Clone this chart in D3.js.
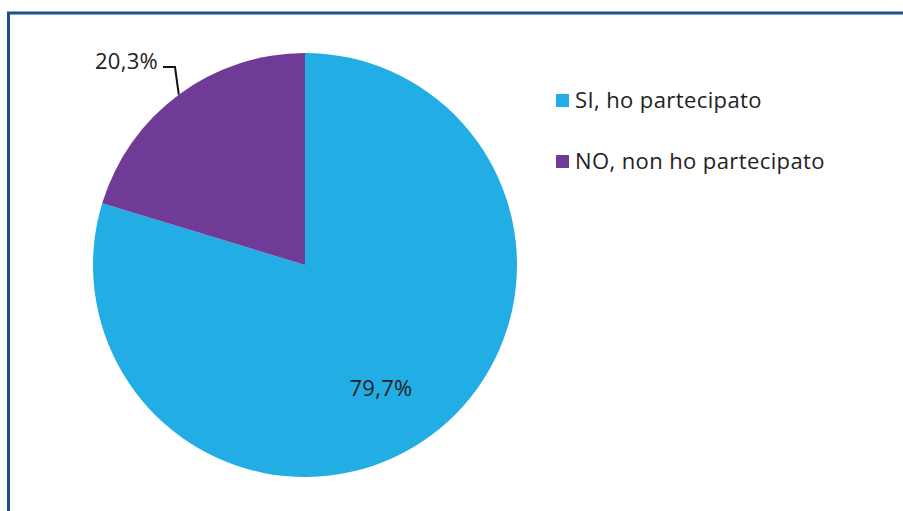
<!DOCTYPE html>
<html>
<head>
<meta charset="utf-8">
<script src="https://cdn.jsdelivr.net/npm/d3@7"></script>
<style>
  html, body { margin: 0; padding: 0; background: #fff; }
  svg { display: block; }
  text { font-family: "Open Sans", "Noto Sans", sans-serif; fill: #222; }
</style>
</head>
<body>
<svg id="chart" width="903" height="511"></svg>
<script>
// Survey answers and their shares (%)
const categories = ["SI, ho partecipato", "NO, non ho partecipato"];
const values = [79.7, 20.3];
const colors = ["#22aee4", "#6f3b96"];
const valueLabels = ["79,7%", "20,3%"];

const svg = d3.select("#chart");

// Outer frame (runs past the right and bottom edges)
svg.append("rect")
  .attr("x", 8.5).attr("y", 13)
  .attr("width", 1000).attr("height", 1000)
  .attr("fill", "none")
  .attr("stroke", "#1d4f8b")
  .attr("stroke-width", 3);

const cx = 305, cy = 265, r = 212;
const g = svg.append("g").attr("transform", `translate(${cx},${cy})`);

const pie = d3.pie().sort(null).value(d => d.v);
const data = categories.map((c, i) => ({ c, v: values[i], color: colors[i], label: valueLabels[i] }));
const arcs = pie(data);
const arc = d3.arc().innerRadius(0).outerRadius(r);

g.selectAll("path.slice")
  .data(arcs)
  .join("path")
  .attr("class", "slice")
  .attr("d", arc)
  .attr("fill", d => d.data.color);

// Label inside the large slice
const big = arcs[0];
g.append("text")
  .attr("x", 381 - cx)
  .attr("y", 396 - cy)
  .attr("text-anchor", "middle")
  .attr("font-size", 22)
  .attr("letter-spacing", 0.3)
  .text(big.data.label);

// Label outside the small slice with leader line
const small = arcs[1];
const mid = (small.startAngle + small.endAngle) / 2;
const p0 = [r * Math.sin(mid), -r * Math.cos(mid)];
const elbow = [175 - cx, 67 - cy];
const end = [163 - cx, 67 - cy];
g.append("path")
  .attr("d", d3.line()([p0, elbow, end]))
  .attr("fill", "none")
  .attr("stroke", "#111")
  .attr("stroke-width", 2);
g.append("text")
  .attr("x", end[0] - 5)
  .attr("y", end[1] + 2)
  .attr("text-anchor", "end")
  .attr("font-size", 22)
  .attr("letter-spacing", 0.3)
  .text(small.data.label);

// Legend
const legend = svg.append("g").attr("transform", "translate(556,94)");
const items = legend.selectAll("g.item")
  .data(data)
  .join("g")
  .attr("class", "item")
  .attr("transform", (d, i) => `translate(0,${i * 61})`);
items.append("rect")
  .attr("width", 13).attr("height", 13)
  .attr("fill", d => d.color);
items.append("text")
  .attr("x", 19)
  .attr("y", 14)
  .attr("font-size", 22)
  .attr("letter-spacing", 0.4)
  .text(d => d.c);
</script>
</body>
</html>
